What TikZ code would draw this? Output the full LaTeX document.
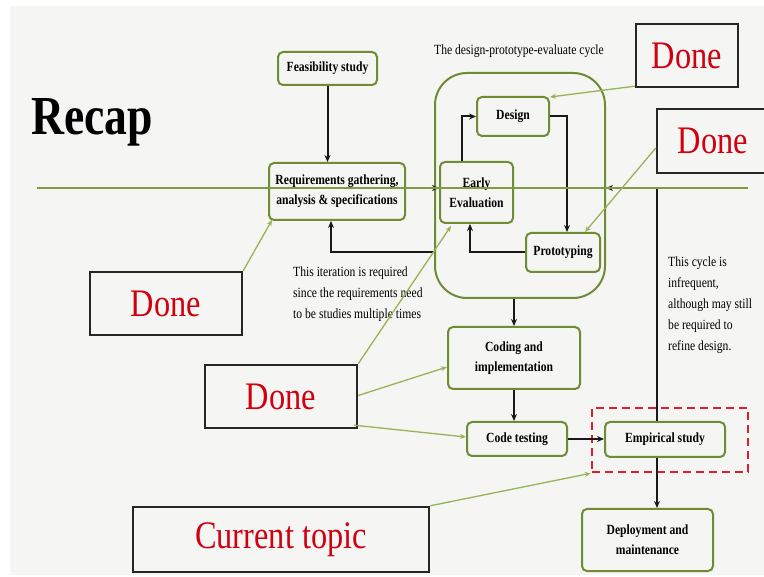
\documentclass[tikz,border=0pt]{standalone}
\usepackage{fontspec}
\setmainfont{Liberation Serif}[FakeStretch=0.83]
\usetikzlibrary{arrows.meta,calc}
\definecolor{bg}{HTML}{F5F5F4}
\definecolor{olive}{HTML}{6F8C35}
\definecolor{ptr}{HTML}{98B356}
\definecolor{hline}{HTML}{7F9C45}
\definecolor{donered}{HTML}{D0000F}
\definecolor{dashred}{HTML}{DC1F2E}
\tikzset{
  gbox/.style={draw=olive,line width=2pt,rounded corners=5pt,fill=bg,inner sep=0pt,align=center,font=\fontsize{14}{20}\selectfont\bfseries},
  dbox/.style={draw=black!85,line width=2.4pt,fill=bg,inner sep=0pt,font=\fontsize{39}{40}\selectfont,text=donered},
  flow/.style={draw=black!90,line width=2pt,-{Stealth[length=7pt,width=6pt]}},
  pointer/.style={draw=ptr,line width=1.3pt,-{Stealth[length=6pt,width=5pt]}},
  note/.style={inner sep=0pt,align=left,font=\fontsize{14}{21}\selectfont},
}
\begin{document}
\begin{tikzpicture}[x=1pt,y=-1pt]
\useasboundingbox (0,0) rectangle (764,577);
\clip (0,0) rectangle (764,577);
\fill[white] (0,0) rectangle (764,577);
\fill[bg] (10,6) rectangle (764,575);

\node[anchor=base west,inner sep=0pt,font=\fontsize{55}{60}\selectfont\bfseries] (recap) at (31,135) {Recap};
\node[inner sep=0pt,font=\fontsize{14}{16}\selectfont] (title) at (519,51) {The design-prototype-evaluate cycle};

% boxes
\node[gbox,minimum width=99pt,minimum height=33pt] (feas) at (327.5,68.5) {Feasibility study};
\node[gbox,minimum width=136pt,minimum height=57pt] (req) at (337,191.5) {Requirements gathering,\\analysis \& specifications};
\node[draw=olive,line width=2pt,rounded corners=32pt,minimum width=170pt,minimum height=225pt] (outer) at (520,185.5) {};
\node[gbox,minimum width=72pt,minimum height=39pt] (design) at (513,116.5) {Design};
\node[gbox,minimum width=73pt,minimum height=61pt] (early) at (476.5,192.5) {Early\\Evaluation};
\node[gbox,minimum width=74pt,minimum height=39pt] (proto) at (563,252.5) {Prototyping};
\node[gbox,minimum width=132pt,minimum height=62pt] (coding) at (514,358) {Coding and\\implementation};
\node[gbox,minimum width=100pt,minimum height=34pt] (test) at (517,439) {Code testing};
\node[gbox,minimum width=120pt,minimum height=35pt] (emp) at (665,439.5) {Empirical study};
\node[gbox,minimum width=131pt,minimum height=62pt] (deploy) at (647.5,540) {Deployment and\\maintenance};
\node[draw=dashred,line width=2.6pt,dash pattern=on 8pt off 5pt,minimum width=156pt,minimum height=64pt] (red) at (670,440) {};

% notes
\node[note,anchor=north west] (note1) at (293,267) {This iteration is required\\since the requirements need\\to be studies multiple times};
\node[note,anchor=north west] (note2) at (668,257) {This cycle is\\infrequent,\\although may still\\be required to\\refine design.};

% black flow arrows
\draw[flow] (feas.south) -- (feas.south |- req.north);
\draw[flow] ([yshift=3.5pt]req.east) -- ([yshift=3.5pt]req.east -| early.west);
\draw[flow] ([xshift=-14.5pt]early.north) |- (design.west);
\draw[flow] (design.east) -| ([xshift=4pt]proto.north);
\draw[flow] (proto.west) -| ([xshift=-6.5pt]early.south);
\draw[flow] (outer.west |- proto.west) -| ([xshift=-6pt]req.south);
\draw[flow] (coding.north |- outer.south) -- (coding.north);
\draw[flow] (coding.south) -- (coding.south |- test.north);
\draw[flow] (test.east) -- (test.east -| emp.west);
\draw[flow] ([xshift=-8pt]emp.south) -- ([xshift=-8pt]emp.south |- deploy.north);
\draw[flow] ([xshift=-8pt]emp.north) |- ([yshift=-2.5pt]outer.east);

% green horizontal line
\coordinate (hlA) at (37,188);
\coordinate (hlB) at (748,188);
\draw[hline,line width=2pt] (hlA) -- (hlB);

% done boxes
\node[dbox,minimum width=102pt,minimum height=63pt] (done1) at (687,55.5) {Done};
\node[dbox,minimum width=112pt,minimum height=64pt] (done2) at (713,141) {Done};
\node[dbox,minimum width=152pt,minimum height=63pt] (done3) at (166,303.5) {Done};
\node[dbox,minimum width=152pt,minimum height=63pt] (done4) at (281,396.5) {Done};
\node[dbox,minimum width=296pt,minimum height=65pt] (current) at (281,539.5) {Current topic};

% pointers
\draw[pointer] ([yshift=2pt]done1.south west) -- ([yshift=-1pt]design.north east);
\draw[pointer] ([yshift=-7pt]done2.west) -- ([xshift=22pt]proto.north);
\draw[pointer] (done3.north east) -- ([xshift=4pt,yshift=1pt]req.south west);
\draw[pointer] (done4.north east) -- ([xshift=12pt,yshift=-2pt]early.south west);
\draw[pointer] ([yshift=1pt]done4.east) -- ([yshift=-9pt]coding.west);
\draw[pointer] ([xshift=-4pt,yshift=4pt]done4.south east) -- ([yshift=2pt]test.west);
\draw[pointer] (current.north east) -- (red.south west);
\end{tikzpicture}
\end{document}
